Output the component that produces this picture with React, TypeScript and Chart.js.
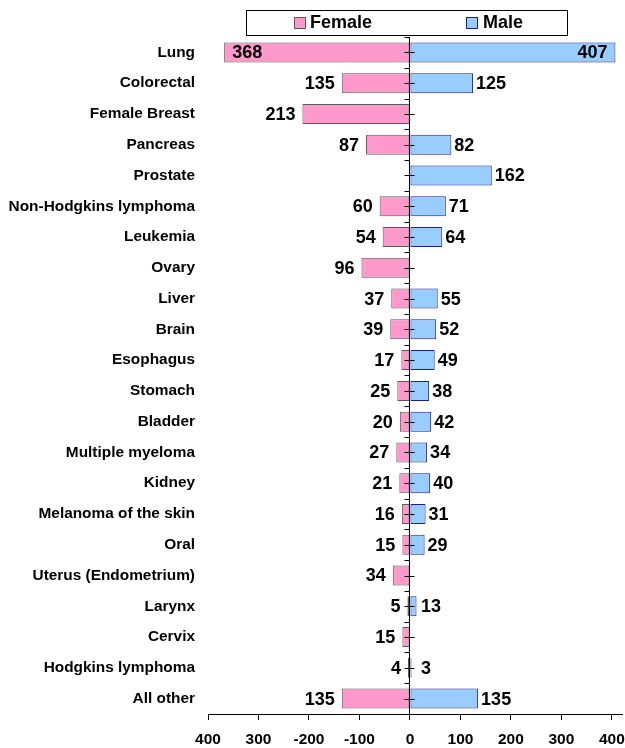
import React, { useEffect, useRef } from "react";
import { Chart, registerables } from "chart.js";

Chart.register(...registerables);

const categories = [
  "Lung",
  "Colorectal",
  "Female Breast",
  "Pancreas",
  "Prostate",
  "Non-Hodgkins lymphoma",
  "Leukemia",
  "Ovary",
  "Liver",
  "Brain",
  "Esophagus",
  "Stomach",
  "Bladder",
  "Multiple myeloma",
  "Kidney",
  "Melanoma of the skin",
  "Oral",
  "Uterus (Endometrium)",
  "Larynx",
  "Cervix",
  "Hodgkins lymphoma",
  "All other",
];

const femaleValues: (number | null)[] = [
  368, 135, 213, 87, null, 60, 54, 96, 37, 39, 17, 25, 20, 27, 21, 16, 15, 34, 5, 15, 4, 135,
];
const maleValues: (number | null)[] = [
  407, 125, null, 82, 162, 71, 64, null, 55, 52, 49, 38, 42, 34, 40, 31, 29, null, 13, null, 3, 135,
];

const xTickValues = [-400, -300, -200, -100, 0, 100, 200, 300, 400];
const xTickLabels = ["400", "300", "-200", "-100", "0", "100", "200", "300", "400"];

const FONT = "'Liberation Sans', Arial, Helvetica, sans-serif";
const FEMALE_FILL = "#FF99CC";
const FEMALE_BORDER = "#5A5A5A";
const MALE_FILL = "#99CCFF";
const MALE_BORDER = "#1C1C9C";

const rawValues = [femaleValues, maleValues];

const centerAxisPlugin = {
  id: "centerAxis",
  afterDatasetsDraw(chart: any) {
    const { ctx, chartArea, scales } = chart;
    const xs = scales.x;
    const ys = scales.y;
    const x0 = Math.floor(xs.getPixelForValue(0)) + 0.5;
    ctx.save();
    ctx.strokeStyle = "#000";
    ctx.lineWidth = 1;
    ctx.beginPath();
    ctx.moveTo(x0, chartArea.top);
    ctx.lineTo(x0, chartArea.bottom);
    const n = categories.length;
    const step = ys.getPixelForValue(1) - ys.getPixelForValue(0);
    for (let i = 0; i <= n; i++) {
      const yb = Math.round(ys.getPixelForValue(0) + (i - 0.5) * step) + 0.5;
      ctx.moveTo(x0 - 5, yb);
      ctx.lineTo(x0, yb);
    }
    for (let i = 0; i < n; i++) {
      const yc = Math.round(ys.getPixelForValue(i)) + 0.5;
      ctx.moveTo(x0 - 5, yc);
      ctx.lineTo(x0 + 5, yc);
    }
    ctx.stroke();
    ctx.restore();
  },
};

const valueLabelPlugin = {
  id: "valueLabels",
  afterDatasetsDraw(chart: any) {
    const { ctx, scales } = chart;
    const x0 = scales.x.getPixelForValue(0);
    ctx.save();
    ctx.font = `bold 18px ${FONT}`;
    ctx.fillStyle = "#000";
    ctx.textBaseline = "middle";
    chart.data.datasets.forEach((ds: any, di: number) => {
      const meta = chart.getDatasetMeta(di);
      meta.data.forEach((bar: any, i: number) => {
        const v = rawValues[di][i];
        if (v == null) return;
        const inside = v > 300;
        const text = String(v);
        const y = bar.y + 1;
        if (di === 0) {
          if (inside) {
            ctx.textAlign = "left";
            ctx.fillText(text, bar.x + 8, y);
          } else {
            ctx.textAlign = "right";
            ctx.fillText(text, Math.min(bar.x - 7, x0 - 9), y);
          }
        } else {
          if (inside) {
            ctx.textAlign = "right";
            ctx.fillText(text, bar.x - 8, y);
          } else {
            ctx.textAlign = "left";
            ctx.fillText(text, Math.max(bar.x + 3, x0 + 11), y);
          }
        }
      });
    });
    ctx.restore();
  },
};

const boxLegendPlugin = {
  id: "boxLegend",
  afterDraw(chart: any) {
    const { ctx } = chart;
    ctx.save();
    ctx.strokeStyle = "#000";
    ctx.lineWidth = 1;
    ctx.fillStyle = "#fff";
    ctx.fillRect(246.5, 10.5, 321, 25);
    ctx.strokeRect(246.5, 10.5, 321, 25);
    const items = [
      { x: 294, textX: 310 },
      { x: 466, textX: 483 },
    ];
    chart.data.datasets.forEach((ds: any, i: number) => {
      const it = items[i];
      ctx.fillStyle = ds.backgroundColor;
      ctx.fillRect(it.x + 0.5, 17.5, 11, 11);
      ctx.strokeStyle = ds.borderColor;
      ctx.strokeRect(it.x + 0.5, 17.5, 11, 11);
      ctx.fillStyle = "#000";
      ctx.font = `bold 18px ${FONT}`;
      ctx.textBaseline = "middle";
      ctx.textAlign = "left";
      ctx.fillText(ds.label, it.textX, 23);
    });
    ctx.restore();
  },
};

export default function App() {
  const canvasRef = useRef<HTMLCanvasElement | null>(null);

  useEffect(() => {
    if (!canvasRef.current) return;
    const chart = new Chart(canvasRef.current, {
      type: "bar",
      data: {
        labels: categories,
        datasets: [
          {
            label: "Female",
            data: femaleValues.map((v) => (v == null ? null : -v)),
            backgroundColor: FEMALE_FILL,
            borderColor: FEMALE_BORDER,
            borderWidth: 1,
            borderSkipped: false,
            barPercentage: 0.65,
            categoryPercentage: 1,
          },
          {
            label: "Male",
            data: maleValues,
            backgroundColor: MALE_FILL,
            borderColor: MALE_BORDER,
            borderWidth: 1,
            borderSkipped: false,
            barPercentage: 0.65,
            categoryPercentage: 1,
          },
        ],
      },
      options: {
        indexAxis: "y",
        responsive: false,
        animation: false,
        layout: { padding: { top: 37, right: 3, bottom: 0, left: 0 } },
        plugins: {
          legend: { display: false },
          tooltip: { enabled: false },
        },
        scales: {
          x: {
            type: "linear",
            stacked: true,
            min: -400,
            max: 420,
            afterBuildTicks: (scale: any) => {
              scale.ticks = xTickValues.map((v) => ({ value: v }));
            },
            afterFit: (scale: any) => {
              scale.height = 34;
              scale.paddingLeft = 0;
              scale.paddingRight = 0;
            },
            grid: {
              drawOnChartArea: false,
              drawTicks: true,
              tickLength: 6,
              color: "#000",
            },
            border: { display: true, color: "#000", width: 1 },
            ticks: {
              color: "#000",
              font: { family: FONT, size: 15.5, weight: "bold" },
              padding: 10,
              maxRotation: 0,
              autoSkip: false,
              callback: (value: any) => {
                const idx = xTickValues.indexOf(Number(value));
                return idx >= 0 ? xTickLabels[idx] : "";
              },
            },
          },
          y: {
            type: "category",
            stacked: true,
            afterFit: (scale: any) => {
              scale.width = 208;
              scale.paddingTop = 0;
              scale.paddingBottom = 0;
            },
            grid: { display: false, drawTicks: false },
            border: { display: false },
            ticks: {
              color: "#000",
              font: { family: FONT, size: 15.4, weight: "bold" },
              padding: 13,
              autoSkip: false,
            },
          },
        },
      },
      plugins: [centerAxisPlugin, valueLabelPlugin, boxLegendPlugin],
    });
    return () => chart.destroy();
  }, []);

  return (
    <div style={{ position: "absolute", left: 0, top: 0, width: 625, height: 748, background: "#fff" }}>
      <canvas ref={canvasRef} width={625} height={748} style={{ display: "block" }} />
    </div>
  );
}
